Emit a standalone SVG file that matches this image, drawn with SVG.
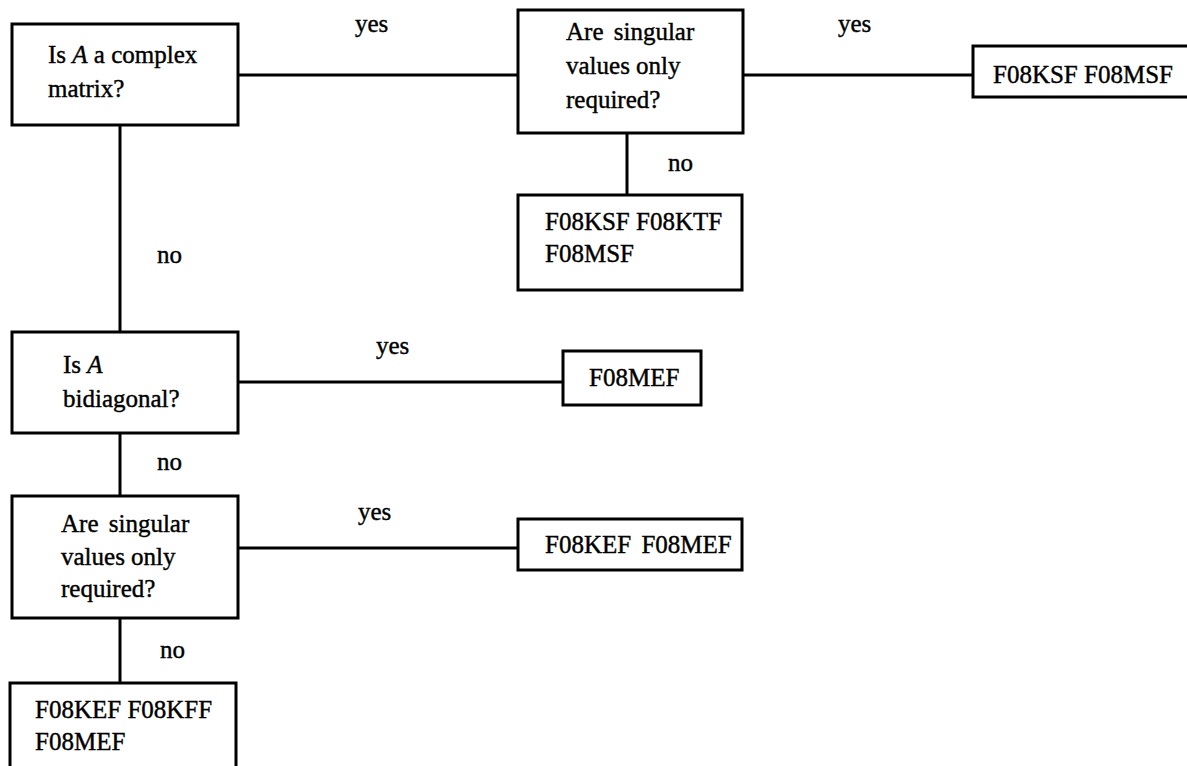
<svg xmlns="http://www.w3.org/2000/svg" width="1187" height="766" viewBox="0 0 1187 766">
<style>
text{font-family:"Liberation Serif","Times New Roman",serif;font-size:25px;fill:#000;stroke:#000;stroke-width:0.4}
.box{fill:#fff;stroke:#000;stroke-width:3}
.line{stroke:#000;stroke-width:3;fill:none}
.i{font-style:italic}
</style>
<rect width="1187" height="766" fill="#fff"/>
<g id="connectors">
<line class="line" x1="238" y1="75" x2="518" y2="75"/>
<line class="line" x1="743" y1="75" x2="973" y2="75"/>
<line class="line" x1="627" y1="133" x2="627" y2="195"/>
<line class="line" x1="120" y1="125" x2="120" y2="332"/>
<line class="line" x1="238" y1="382" x2="563" y2="382"/>
<line class="line" x1="120" y1="433" x2="120" y2="496"/>
<line class="line" x1="238" y1="548" x2="518" y2="548"/>
<line class="line" x1="120" y1="618" x2="120" y2="683"/>
<text x="355" y="32">yes</text>
<text x="838" y="32">yes</text>
<text x="668" y="171">no</text>
<text x="157" y="263">no</text>
<text x="376" y="354">yes</text>
<text x="157" y="470">no</text>
<text x="358" y="520">yes</text>
<text x="160" y="658">no</text>
</g>
<g id="q-complex">
<rect class="box" x="12" y="24" width="226" height="101"/>
<text x="48" y="63">Is <tspan class="i">A</tspan> a complex</text>
<text x="48" y="97">matrix?</text>
</g>
<g id="q-singular-complex">
<rect class="box" x="518" y="10" width="225" height="123"/>
<text x="566" y="40" word-spacing="4">Are singular</text>
<text x="566" y="74">values only</text>
<text x="566" y="108">required?</text>
</g>
<g id="r-ksf-msf">
<rect class="box" x="973" y="46" width="230" height="51"/>
<text x="993" y="83">F08KSF F08MSF</text>
</g>
<g id="r-ksf-ktf-msf">
<rect class="box" x="518" y="195" width="224" height="95"/>
<text x="545" y="230">F08KSF F08KTF</text>
<text x="545" y="262">F08MSF</text>
</g>
<g id="q-bidiagonal">
<rect class="box" x="12" y="332" width="226" height="101"/>
<text x="63" y="373">Is <tspan class="i">A</tspan></text>
<text x="63" y="407">bidiagonal?</text>
</g>
<g id="r-mef">
<rect class="box" x="563" y="351" width="138" height="54"/>
<text x="589" y="386">F08MEF</text>
</g>
<g id="q-singular-real">
<rect class="box" x="12" y="496" width="226" height="122"/>
<text x="61" y="532" word-spacing="4">Are singular</text>
<text x="61" y="565">values only</text>
<text x="61" y="597">required?</text>
</g>
<g id="r-kef-mef">
<rect class="box" x="518" y="519" width="224" height="51"/>
<text x="545" y="553" word-spacing="4">F08KEF F08MEF</text>
</g>
<g id="r-kef-kff-mef">
<rect class="box" x="10" y="683" width="226" height="100"/>
<text x="35" y="718">F08KEF F08KFF</text>
<text x="35" y="750">F08MEF</text>
</g>
</svg>
